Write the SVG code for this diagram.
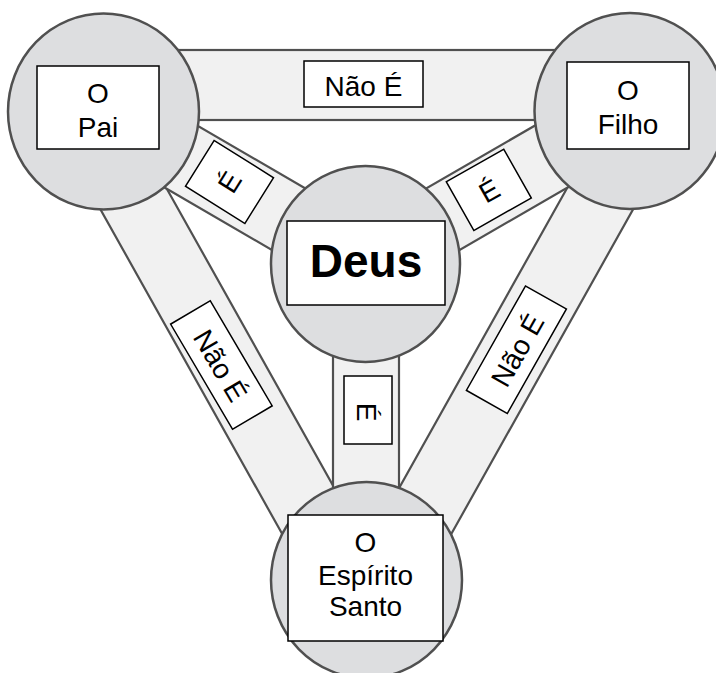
<svg xmlns="http://www.w3.org/2000/svg" width="716" height="673" viewBox="0 0 716 673">
  <style>
    .bar { fill: #f1f1f1; stroke: #505050; stroke-width: 2.2; }
    .disc { fill: #dddee0; stroke: #505050; stroke-width: 2.5; }
    .box { fill: #ffffff; stroke: #000000; stroke-width: 1.5; }
    .t { font-family: "Liberation Sans", Arial, sans-serif; font-size: 28px; fill: #000; text-anchor: middle; }
    .big { font-family: "Liberation Sans", Arial, sans-serif; font-size: 46px; font-weight: bold; fill: #000; text-anchor: middle; }
  </style>

  <!-- connecting bands -->
  <g id="connectors">
    <rect class="bar" x="104" y="50" width="526" height="70"/>
    <polygon class="bar" points="67.2,150 145.1,150 385.9,580 308,580"/>
    <polygon class="bar" points="588.4,150 666.3,150 425.5,580 347.6,580"/>
    <rect class="bar" x="0" y="-35" width="303.2" height="70" transform="translate(103.5,111.5) rotate(30.2)"/>
    <rect class="bar" x="0" y="-35" width="305.6" height="70" transform="translate(365.5,264) rotate(-30.05)"/>
    <rect class="bar" x="333" y="264" width="66" height="316"/>
  </g>

  <!-- band labels -->
  <g id="label-pai-filho">
    <rect class="box" x="304" y="61" width="119" height="46"/>
    <text class="t" x="363.5" y="96">Não É</text>
  </g>
  <g id="label-pai-espirito" transform="translate(221.4,365) rotate(59.5)">
    <rect class="box" x="-61" y="-23" width="122" height="46"/>
    <text class="t" x="0" y="11">Não É</text>
  </g>
  <g id="label-filho-espirito" transform="translate(516.4,349.7) rotate(-60.5)">
    <rect class="box" x="-60" y="-23.5" width="120" height="47"/>
    <text class="t" x="0" y="11">Não É</text>
  </g>
  <g id="label-pai-deus" transform="translate(229.5,182) rotate(32)">
    <rect class="box" x="-35" y="-27" width="70" height="54"/>
    <text class="t" x="0" y="10" transform="rotate(-90)">É</text>
  </g>
  <g id="label-filho-deus" transform="translate(488.8,189.8) rotate(-29.5)">
    <rect class="box" x="-33" y="-28" width="66" height="56"/>
    <text class="t" x="0" y="11">É</text>
  </g>
  <g id="label-deus-espirito" transform="translate(368,410) rotate(90)">
    <rect class="box" x="-34" y="-24" width="68" height="48"/>
    <text class="t" x="2" y="11">É</text>
  </g>

  <!-- persons and centre -->
  <g id="node-pai">
    <ellipse class="disc" cx="103.5" cy="111.5" rx="95.5" ry="98"/>
    <rect class="box" x="37" y="66" width="122" height="83"/>
    <text class="t" x="98" y="103">O</text>
    <text class="t" x="98" y="137">Pai</text>
  </g>
  <g id="node-filho">
    <ellipse class="disc" cx="630" cy="111" rx="95.5" ry="98"/>
    <rect class="box" x="567" y="62" width="122" height="87"/>
    <text class="t" x="628" y="100">O</text>
    <text class="t" x="628" y="133.5">Filho</text>
  </g>
  <g id="node-deus">
    <ellipse class="disc" cx="365.5" cy="264" rx="94.5" ry="98"/>
    <rect class="box" x="287" y="221" width="158" height="84"/>
    <text class="big" x="366" y="277">Deus</text>
  </g>
  <g id="node-espirito">
    <ellipse class="disc" cx="366.5" cy="580" rx="95.5" ry="98"/>
    <rect class="box" x="288" y="515" width="155" height="126"/>
    <text class="t" x="365.5" y="551.5">O</text>
    <text class="t" x="365.5" y="585">Espírito</text>
    <text class="t" x="365.5" y="616">Santo</text>
  </g>
</svg>
